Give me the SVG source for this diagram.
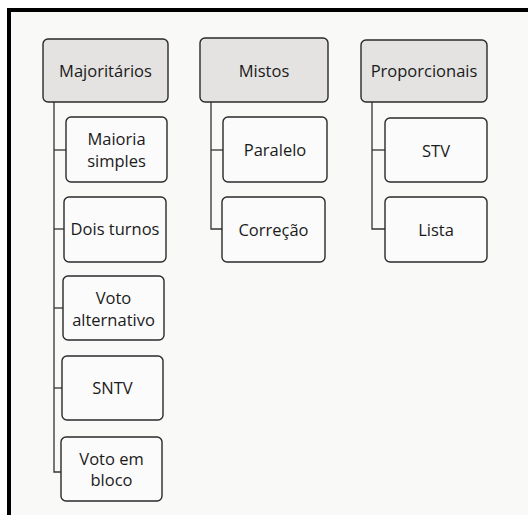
<svg xmlns="http://www.w3.org/2000/svg" width="528" height="515" viewBox="0 0 528 515">
<defs>
<style>
.hdr{fill:#e4e3e1;stroke:#2a2a2a;stroke-width:1.4}
.box{fill:#fbfbfb;stroke:#2a2a2a;stroke-width:1.4}
.t{font-family:"Open Sans","Noto Sans",sans-serif;font-size:16.5px;fill:#1a1a1a;text-anchor:middle}
.c{fill:none;stroke:#333;stroke-width:1.3}
</style>
</defs>
<rect x="0" y="0" width="528" height="515" fill="#ffffff"/>
<rect x="9" y="12" width="519" height="503" fill="#f9f9f8"/>
<path d="M9 515 V10 H528" fill="none" stroke="#000" stroke-width="4"/>
<g id="connectors">
<path class="c" d="M54 102 V472 H61"/>
<path class="c" d="M54 150 H66"/>
<path class="c" d="M54 229 H64"/>
<path class="c" d="M54 308 H63"/>
<path class="c" d="M54 388 H62"/>
<path class="c" d="M211 102 V229 H222"/>
<path class="c" d="M211 150 H223"/>
<path class="c" d="M372 102 V229 H385"/>
<path class="c" d="M372 150 H385"/>
</g>
<g id="majoritarios"><rect class="hdr" x="43" y="39" width="125" height="63" rx="5"/><text class="t" x="105.5" y="77">Majoritários</text></g>
<g id="mistos"><rect class="hdr" x="200" y="38" width="128" height="64" rx="5"/><text class="t" x="264" y="77">Mistos</text></g>
<g id="proporcionais"><rect class="hdr" x="361" y="40" width="126" height="62" rx="5"/><text class="t" x="424" y="77">Proporcionais</text></g>
<g id="maioria-simples"><rect class="box" x="66" y="117" width="101" height="65" rx="5"/><text class="t" x="116.5" y="145">Maioria</text><text class="t" x="116.5" y="167">simples</text></g>
<g id="dois-turnos"><rect class="box" x="64" y="197" width="102" height="65" rx="5"/><text class="t" x="115" y="235">Dois turnos</text></g>
<g id="voto-alternativo"><rect class="box" x="63" y="276" width="101" height="64" rx="5"/><text class="t" x="113.5" y="304">Voto</text><text class="t" x="113.5" y="326">alternativo</text></g>
<g id="sntv"><rect class="box" x="62" y="356" width="101" height="64" rx="5"/><text class="t" x="112.5" y="394">SNTV</text></g>
<g id="voto-em-bloco"><rect class="box" x="61" y="437" width="101" height="64" rx="5"/><text class="t" x="111.5" y="465">Voto em</text><text class="t" x="111.5" y="486">bloco</text></g>
<g id="paralelo"><rect class="box" x="223" y="117" width="104" height="65" rx="5"/><text class="t" x="275" y="156">Paralelo</text></g>
<g id="correcao"><rect class="box" x="222" y="197" width="103" height="65" rx="5"/><text class="t" x="273.5" y="236">Correção</text></g>
<g id="stv"><rect class="box" x="385" y="118" width="102" height="64" rx="5"/><text class="t" x="436" y="157">STV</text></g>
<g id="lista"><rect class="box" x="385" y="197" width="102" height="65" rx="5"/><text class="t" x="436" y="236">Lista</text></g>
</svg>
